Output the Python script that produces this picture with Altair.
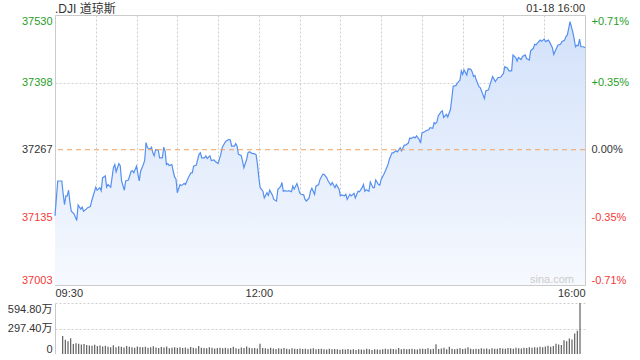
import altair as alt
import pandas as pd

# ---------------- data ----------------
title_left = ".DJI 道琼斯"
title_right = "01-18 16:00"
watermark = "sina.com"
prev_close = 37267

# minutes after 09:30 and index level
minutes = [0, 2, 5, 6, 7, 8, 9, 10, 11, 12, 14, 16, 17, 19, 20, 21, 23, 24, 26, 27,
           29, 30, 31, 33, 34, 35, 37, 38, 39, 41, 43, 44, 45, 47, 48, 49, 51, 52, 54, 56,
           57, 58, 60, 61, 62, 63, 65, 66, 67, 68, 70, 71, 72, 73, 74, 76, 77, 79, 80, 81,
           82, 83, 84, 86, 87, 88, 89, 90, 92, 93, 95, 96, 98, 100, 101, 102, 104, 105, 106, 107,
           108, 110, 111, 112, 114, 115, 117, 118, 120, 122, 123, 125, 126, 128, 129, 130, 132, 133, 134, 135,
           137, 138, 139, 141, 142, 143, 145, 147, 148, 149, 150, 151, 153, 154, 156, 157, 158, 160, 161, 163,
           164, 166, 167, 168, 169, 171, 172, 174, 175, 176, 178, 179, 180, 181, 183, 184, 185, 187, 188, 189,
           191, 192, 194, 195, 197, 198, 200, 201, 203, 204, 206, 207, 209, 210, 211, 213, 214, 215, 217, 218,
           220, 221, 223, 224, 226, 227, 228, 229, 231, 232, 234, 235, 236, 238, 239, 240, 242, 243, 245, 246,
           248, 249, 251, 252, 254, 255, 257, 258, 260, 261, 262, 264, 265, 266, 268, 269, 270, 272, 273, 275,
           276, 278, 279, 280, 281, 282, 284, 285, 286, 288, 289, 291, 292, 293, 295, 296, 298, 299, 300, 301,
           303, 304, 306, 307, 308, 309, 310, 312, 313, 315, 316, 317, 319, 320, 322, 323, 324, 326, 327, 328,
           330, 331, 333, 334, 336, 337, 339, 340, 341, 343, 344, 346, 347, 349, 350, 352, 353, 354, 355, 357,
           358, 360, 361, 363, 364, 366, 367, 369, 370, 372, 373, 375, 376, 377, 378, 379, 380, 381, 382, 383,
           384, 385, 386, 387, 389, 390]
prices = [37138, 37206, 37206, 37181, 37160, 37177, 37177, 37188, 37164, 37147, 37142, 37129, 37159, 37151, 37155, 37147, 37151, 37154, 37156, 37167,
          37185, 37194, 37188, 37193, 37187, 37212, 37216, 37194, 37199, 37194, 37232, 37238, 37224, 37240, 37236, 37206, 37188, 37206, 37208, 37225,
          37226, 37222, 37235, 37220, 37206, 37225, 37238, 37246, 37281, 37271, 37268, 37272, 37261, 37255, 37267, 37266, 37251, 37251, 37272, 37264,
          37238, 37240, 37236, 37238, 37225, 37214, 37210, 37183, 37199, 37197, 37201, 37199, 37212, 37222, 37222, 37235, 37237, 37248, 37258, 37261,
          37251, 37251, 37255, 37250, 37255, 37246, 37247, 37244, 37240, 37258, 37271, 37281, 37284, 37287, 37286, 37274, 37274, 37279, 37274, 37258,
          37256, 37245, 37232, 37248, 37261, 37263, 37260, 37259, 37257, 37238, 37212, 37193, 37186, 37173, 37183, 37178, 37188, 37178, 37170, 37167,
          37190, 37195, 37203, 37186, 37187, 37186, 37187, 37185, 37196, 37190, 37201, 37193, 37183, 37180, 37179, 37170, 37167, 37173, 37186, 37192,
          37180, 37196, 37199, 37209, 37219, 37219, 37212, 37206, 37198, 37203, 37193, 37199, 37190, 37177, 37179, 37177, 37180, 37170, 37180, 37177,
          37182, 37173, 37186, 37185, 37193, 37199, 37186, 37189, 37186, 37204, 37193, 37193, 37208, 37199, 37198, 37209, 37219, 37225, 37238, 37248,
          37261, 37261, 37265, 37263, 37271, 37265, 37276, 37276, 37280, 37290, 37289, 37292, 37290, 37294, 37287, 37280, 37300, 37302, 37304, 37306,
          37310, 37309, 37320, 37318, 37321, 37333, 37341, 37343, 37330, 37336, 37331, 37346, 37367, 37391, 37392, 37397, 37403, 37421, 37414, 37423,
          37413, 37425, 37424, 37419, 37410, 37412, 37403, 37390, 37388, 37374, 37367, 37382, 37384, 37393, 37410, 37405, 37400, 37408, 37408, 37409,
          37416, 37429, 37426, 37421, 37421, 37452, 37447, 37440, 37447, 37443, 37449, 37452, 37445, 37442, 37460, 37465, 37473, 37472, 37475, 37481,
          37479, 37483, 37478, 37481, 37477, 37466, 37453, 37465, 37471, 37473, 37478, 37481, 37488, 37491, 37504, 37517, 37507, 37497, 37484, 37468,
          37471, 37470, 37483, 37468, 37468, 37466]

# volume in 万 (10k shares), one bar every two minutes
vol_minutes = list(range(2, 391, 2))
volumes = [210, 165, 150, 185, 118, 125, 120, 112, 118, 105, 100, 95, 108, 92, 98,
           88, 95, 85, 80, 102, 78, 90, 84, 76, 92, 85, 80, 74, 88, 82,
           78, 85, 72, 80, 90, 76, 70, 82, 75, 88, 68, 74, 80, 72, 78,
           70, 76, 65, 82, 72, 68, 92, 74, 70, 66, 78, 72, 64, 70, 74,
           68, 72, 64, 70, 84, 66, 62, 76, 70, 88, 72, 66, 70, 64, 120,
           70, 66, 62, 72, 64, 58, 68, 62, 70, 60, 56, 66, 62, 58, 64,
           58, 62, 55, 60, 66, 54, 58, 62, 56, 52, 60, 55, 58, 54, 50,
           55, 52, 58, 50, 54, 48, 56, 52, 50, 62, 54, 48, 56, 52, 50,
           54, 60, 56, 62, 58, 52, 70, 56, 60, 54, 58, 62, 56, 52, 60,
           62, 58, 68, 55, 60, 115, 58, 64, 72, 56, 85, 60, 54, 62, 66,
           58, 64, 78, 60, 56, 62, 58, 66, 60, 64, 56, 68, 62, 60, 70,
           64, 62, 70, 66, 60, 72, 68, 64, 74, 70, 78, 72, 80, 76, 84,
           80, 88, 96, 84, 92, 120, 110, 105, 160, 150, 180, 170, 240, 270, 594.8]

price_ticks = [37003, 37135, 37267, 37398, 37530]
pct_labels = ["-0.71%", "-0.35%", "0.00%", "+0.35%", "+0.71%"]
time_ticks = list(range(0, 391, 30))
time_label_values = [0, 150, 390]
time_label_text = ["09:30", "12:00", "16:00"]
vol_ticks = [0, 297.4, 594.8]
vol_labels = ["0", "297.40万", "594.80万"]

# ---------------- style ----------------
FONT = "Liberation Sans, Noto Sans CJK SC, sans-serif"
GREEN = "#1f9e1f"
RED = "#f23a3a"
DARK = "#333333"
GRID = "#cfcfcf"
BORDER = "#c8c8c8"
LINE = "#5590f0"

price_df = pd.DataFrame({"minute": minutes, "price": prices})
vol_df = pd.DataFrame({"minute": vol_minutes, "volume": volumes})

time_expr = " : ".join(
    f"datum.value == {v} ? '{t}'" for v, t in zip(time_label_values, time_label_text)
) + " : ''"
pct_expr = " : ".join(
    f"datum.value == {v} ? '{t}'" for v, t in zip(price_ticks, pct_labels)
) + " : ''"
vol_expr = " : ".join(
    f"datum.value == {v} ? '{t}'" for v, t in zip(vol_ticks, vol_labels)
) + " : ''"

label_color = {
    "condition": [
        {"test": f"datum.value > {prev_close}", "value": GREEN},
        {"test": f"datum.value < {prev_close}", "value": RED},
    ],
    "value": DARK,
}

price_scale = alt.Scale(domain=[price_ticks[0], price_ticks[-1]], nice=False, zero=False)

x_enc = alt.X(
    "minute:Q",
    scale=alt.Scale(domain=[0, 390], nice=False, zero=False),
    axis=alt.Axis(
        values=time_ticks, labelExpr=time_expr, grid=True, gridColor=GRID,
        gridDash=[2, 2], ticks=False, domain=False, labelFlush=True,
        labelPadding=2, labelColor=DARK, labelFontSize=11, labelFont=FONT,
        title=None,
    ),
)
y_enc = alt.Y(
    "price:Q",
    scale=price_scale,
    axis=alt.Axis(
        values=price_ticks, orient="left", grid=True, gridColor=GRID,
        gridDash=[2, 2],
        gridOpacity={"condition": {"test": f"datum.value == {prev_close}", "value": 0}, "value": 1},
        ticks=False, domain=False, labelFlush=True, labelPadding=3,
        labelColor=label_color, labelFontSize=11, labelFont=FONT,
        minExtent=49, maxExtent=49, title=None, format="d",
    ),
)

base = alt.Chart(price_df).encode(x=x_enc, y=y_enc)

area = base.mark_area(
    clip=True,
    color=alt.Gradient(
        gradient="linear",
        stops=[alt.GradientStop(color="#f6f9fe", offset=0),
               alt.GradientStop(color="#d2e1fa", offset=1)],
        x1=1, x2=1, y1=1, y2=0,
    ),
).encode(y2=alt.Y2Datum(price_ticks[0]))
line = base.mark_line(color=LINE, strokeWidth=1.2)

t_left = alt.Chart(pd.DataFrame({"t": [title_left]})).mark_text(
    align="left", baseline="middle", font=FONT, fontSize=12, color=DARK
).encode(x=alt.value(0), y=alt.value(-6), text="t:N")
t_right = alt.Chart(pd.DataFrame({"t": [title_right]})).mark_text(
    align="right", baseline="middle", font=FONT, fontSize=11, color=DARK
).encode(x=alt.value(530), y=alt.value(-6), text="t:N")
t_mark = alt.Chart(pd.DataFrame({"t": [watermark]})).mark_text(
    align="right", baseline="middle", font=FONT, fontSize=11, color="#cccccc"
).encode(x=alt.value(519), y=alt.value(265), text="t:N")

inner = alt.layer(area, line, t_left, t_right, t_mark)

rule = alt.Chart(pd.DataFrame({"price": [prev_close]})).mark_rule(
    color="#f0a060", strokeDash=[5, 4], strokeWidth=1
).encode(
    y=alt.Y(
        "price:Q",
        scale=price_scale,
        axis=alt.Axis(
            values=price_ticks, orient="right", labelExpr=pct_expr, grid=False,
            ticks=False, domain=False, labelFlush=True, labelPadding=6,
            labelColor=label_color, labelFontSize=11, labelFont=FONT, title=None,
        ),
    )
)

price_chart = alt.layer(inner, rule).resolve_scale(y="independent").properties(
    width=530, height=270,
    view=alt.ViewBackground(stroke=BORDER, strokeWidth=1),
)

vol_chart = alt.Chart(vol_df).mark_bar(size=1.2, color="#5f5f5f").encode(
    x=alt.X("minute:Q", scale=alt.Scale(domain=[0, 390], nice=False, zero=False), axis=None),
    y=alt.Y(
        "volume:Q",
        scale=alt.Scale(domain=[0, vol_ticks[-1]], nice=False),
        axis=alt.Axis(
            values=vol_ticks, labelExpr=vol_expr, grid=True, gridColor=GRID,
            gridDash=[2, 2],
            gridOpacity={"condition": {"test": "datum.value == 0", "value": 0}, "value": 1},
            ticks=False, domain=True, domainColor=BORDER, labelFlush=True,
            labelPadding=3, labelColor=DARK, labelFontSize=11, labelFont=FONT,
            minExtent=49, maxExtent=49, title=None,
        ),
    ),
).properties(width=530, height=51, view=alt.ViewBackground(strokeOpacity=0))

chart = alt.vconcat(price_chart, vol_chart, spacing=4).properties(
    padding={"left": 5, "top": 2, "right": 5, "bottom": 0},
    background="white",
)

chart.save("out.html", embed_options={"renderer": "svg", "actions": False})
